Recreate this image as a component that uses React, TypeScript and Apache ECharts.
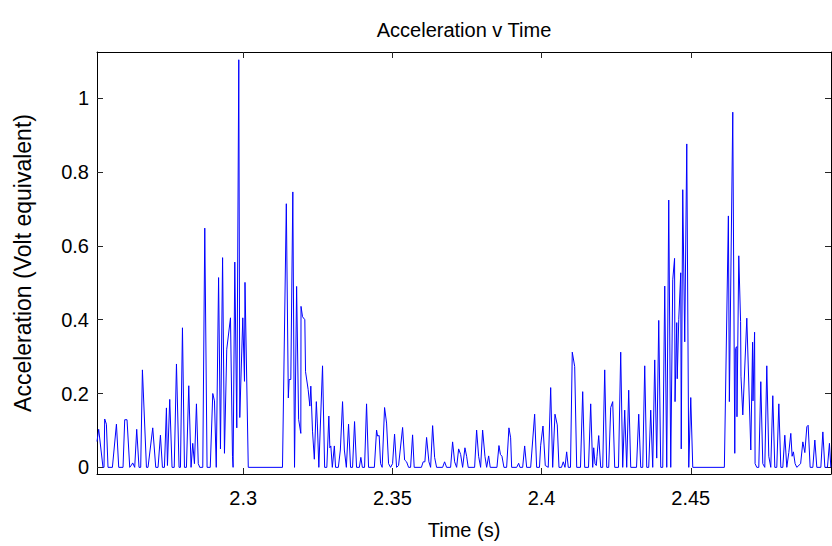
import React, { useEffect, useRef } from "react";
import * as echarts from "echarts";

// Time (s) of each traced vertex of the signal
const times: number[] = [
  2.25100, 2.25157, 2.25301, 2.25335, 2.25358, 2.25415, 2.25469, 2.25616, 2.25751, 2.25828,
  2.25972, 2.26029, 2.26106, 2.26197, 2.26254, 2.26297, 2.26364, 2.26431, 2.26508, 2.26565,
  2.26622, 2.26757, 2.26810, 2.26968, 2.27069, 2.27146, 2.27226, 2.27293, 2.27360, 2.27427,
  2.27461, 2.27538, 2.27615, 2.27689, 2.27763, 2.27850, 2.27897, 2.27964, 2.28031, 2.28098,
  2.28175, 2.28252, 2.28309, 2.28366, 2.28433, 2.28494, 2.28544, 2.28645, 2.28712, 2.28789,
  2.28896, 2.28980, 2.29037, 2.29097, 2.29175, 2.29238, 2.29309, 2.29372, 2.29449, 2.29574,
  2.29641, 2.29661, 2.29718, 2.29785, 2.29852, 2.29885, 2.29986, 2.30043, 2.30060, 2.30170,
  2.31317, 2.31445, 2.31512, 2.31539, 2.31596, 2.31663, 2.31720, 2.31790, 2.31857, 2.31931,
  2.31938, 2.31988, 2.32065, 2.32089, 2.32176, 2.32199, 2.32233, 2.32266, 2.32323, 2.32384,
  2.32451, 2.32484, 2.32535, 2.32659, 2.32729, 2.32803, 2.32870, 2.32904, 2.32937, 2.32987,
  2.33055, 2.33095, 2.33189, 2.33256, 2.33330, 2.33390, 2.33457, 2.33531, 2.33598, 2.33665,
  2.33732, 2.33799, 2.33893, 2.33943, 2.33994, 2.34067, 2.34134, 2.34201, 2.34396, 2.34470,
  2.34503, 2.34557, 2.34604, 2.34657, 2.34738, 2.34805, 2.34872, 2.34939, 2.35006, 2.35073,
  2.35140, 2.35207, 2.35342, 2.35409, 2.35476, 2.35543, 2.35610, 2.35677, 2.35731, 2.35972,
  2.36032, 2.36089, 2.36146, 2.36224, 2.36281, 2.36348, 2.36415, 2.36482, 2.36683, 2.36750,
  2.36817, 2.36951, 2.37018, 2.37086, 2.37153, 2.37220, 2.37287, 2.37354, 2.37431, 2.37488,
  2.37541, 2.37756, 2.37823, 2.37890, 2.37957, 2.38024, 2.38102, 2.38159, 2.38226, 2.38279,
  2.38504, 2.38571, 2.38621, 2.38672, 2.38739, 2.38829, 2.38906, 2.38963, 2.38997, 2.39165,
  2.39232, 2.39275, 2.39366, 2.39433, 2.39500, 2.39634, 2.39768, 2.39835, 2.39929, 2.39970,
  2.40047, 2.40124, 2.40224, 2.40305, 2.40372, 2.40449, 2.40526, 2.40583, 2.40667, 2.40727,
  2.40784, 2.40841, 2.40895, 2.40969, 2.41029, 2.41110, 2.41177, 2.41304, 2.41378, 2.41445,
  2.41573, 2.41646, 2.41713, 2.41747, 2.41791, 2.41834, 2.41858, 2.41915, 2.41982, 2.42049,
  2.42116, 2.42183, 2.42250, 2.42317, 2.42384, 2.42451, 2.42578, 2.42652, 2.42719, 2.42786,
  2.42853, 2.42920, 2.42988, 2.43182, 2.43256, 2.43323, 2.43390, 2.43457, 2.43524, 2.43591,
  2.43658, 2.43725, 2.43792, 2.43859, 2.43927, 2.43994, 2.44061, 2.44128, 2.44195, 2.44262,
  2.44329, 2.44396, 2.44457, 2.44473, 2.44530, 2.44547, 2.44597, 2.44664, 2.44681, 2.44731,
  2.44798, 2.44866, 2.44933, 2.45000, 2.45067, 2.46126, 2.46261, 2.46294, 2.46408, 2.46475,
  2.46495, 2.46542, 2.46549, 2.46609, 2.46670, 2.46683, 2.46744, 2.46878, 2.47012, 2.47072,
  2.47086, 2.47139, 2.47156, 2.47213, 2.47280, 2.47347, 2.47414, 2.47481, 2.47548, 2.47615,
  2.47682, 2.47749, 2.47816, 2.47883, 2.47951, 2.48018, 2.48085, 2.48152, 2.48219, 2.48286,
  2.48353, 2.48397, 2.48440, 2.48497, 2.48554, 2.48682, 2.48756, 2.48823, 2.48890, 2.48934,
  2.49001, 2.49091, 2.49158, 2.49225, 2.49360, 2.49427, 2.49494, 2.49581, 2.49648, 2.49695,
];

// Acceleration (Volt equivalent) at each of those times
const accel: number[] = [
  0.070, 0.103, 0.000, 0.000, 0.131, 0.117, 0.000, 0.000, 0.117, 0.000,
  0.000, 0.129, 0.129, 0.000, 0.006, 0.012, 0.000, 0.103, 0.000, 0.000,
  0.264, 0.000, 0.000, 0.107, 0.000, 0.000, 0.087, 0.000, 0.000, 0.161,
  0.005, 0.184, 0.000, 0.000, 0.280, 0.000, 0.000, 0.378, 0.000, 0.000,
  0.221, 0.000, 0.065, 0.010, 0.172, 0.010, 0.000, 0.000, 0.648, 0.000,
  0.000, 0.200, 0.180, 0.000, 0.514, 0.050, 0.568, 0.038, 0.320, 0.405,
  0.030, 0.000, 0.556, 0.107, 1.104, 0.135, 0.405, 0.233, 0.501, 0.000,
  0.000, 0.714, 0.188, 0.238, 0.238, 0.746, 0.000, 0.490, 0.130, 0.092,
  0.436, 0.408, 0.400, 0.259, 0.211, 0.211, 0.166, 0.220, 0.098, 0.022,
  0.178, 0.120, 0.000, 0.275, 0.000, 0.000, 0.139, 0.053, 0.058, 0.000,
  0.058, 0.000, 0.000, 0.047, 0.178, 0.047, 0.000, 0.117, 0.000, 0.000,
  0.124, 0.000, 0.000, 0.027, 0.000, 0.000, 0.172, 0.000, 0.000, 0.101,
  0.085, 0.086, 0.010, 0.000, 0.162, 0.120, 0.010, 0.000, 0.010, 0.090,
  0.000, 0.005, 0.108, 0.020, 0.015, 0.000, 0.000, 0.088, 0.000, 0.000,
  0.015, 0.015, 0.081, 0.015, 0.000, 0.113, 0.027, 0.000, 0.000, 0.015,
  0.000, 0.000, 0.069, 0.015, 0.000, 0.050, 0.035, 0.000, 0.053, 0.030,
  0.000, 0.000, 0.101, 0.030, 0.000, 0.101, 0.030, 0.000, 0.031, 0.000,
  0.000, 0.059, 0.035, 0.030, 0.000, 0.000, 0.107, 0.080, 0.000, 0.000,
  0.011, 0.000, 0.000, 0.058, 0.000, 0.000, 0.144, 0.000, 0.000, 0.060,
  0.112, 0.005, 0.000, 0.216, 0.000, 0.144, 0.115, 0.000, 0.000, 0.015,
  0.000, 0.042, 0.000, 0.000, 0.312, 0.273, 0.000, 0.000, 0.205, 0.000,
  0.000, 0.172, 0.000, 0.053, 0.010, 0.005, 0.030, 0.086, 0.000, 0.000,
  0.264, 0.000, 0.000, 0.162, 0.178, 0.000, 0.000, 0.312, 0.000, 0.155,
  0.000, 0.209, 0.000, 0.000, 0.144, 0.000, 0.000, 0.275, 0.000, 0.000,
  0.155, 0.000, 0.291, 0.025, 0.398, 0.000, 0.000, 0.491, 0.000, 0.724,
  0.000, 0.508, 0.566, 0.178, 0.392, 0.240, 0.400, 0.527, 0.050, 0.752,
  0.340, 0.876, 0.000, 0.189, 0.000, 0.000, 0.681, 0.178, 0.962, 0.038,
  0.322, 0.327, 0.137, 0.573, 0.395, 0.247, 0.142, 0.404, 0.047, 0.339,
  0.180, 0.366, 0.010, 0.000, 0.000, 0.232, 0.010, 0.000, 0.275, 0.030,
  0.000, 0.194, 0.000, 0.000, 0.172, 0.000, 0.000, 0.087, 0.000, 0.040,
  0.092, 0.030, 0.042, 0.010, 0.000, 0.010, 0.069, 0.040, 0.110, 0.114,
  0.000, 0.000, 0.074, 0.000, 0.000, 0.096, 0.000, 0.000, 0.065, 0.000,
];

const xTicks: number[] = [2.3, 2.35, 2.4, 2.45];
const yTicks: number[] = [0, 0.2, 0.4, 0.6, 0.8, 1];

const titleText = "Acceleration v Time";
const xName = "Time (s)";
const yName = "Acceleration (Volt equivalent)";

const X_MIN = 2.251;
const X_MAX = 2.497;
const Y_MIN = -0.018;
const Y_MAX = 1.125;

const FONT = "'Liberation Sans', Arial, Helvetica, sans-serif";

export default function App() {
  const ref = useRef<HTMLDivElement>(null);

  useEffect(() => {
    if (!ref.current) return;
    const chart = echarts.init(ref.current, null, { renderer: "svg" });
    const data = times.map((t, i) => [t, accel[i]]);

    const tickStyle = { color: "#262626", width: 1 };
    const baseX = {
      type: "value" as const,
      min: X_MIN,
      max: X_MAX,
      splitLine: { show: false },
      axisLine: { show: true, onZero: false, lineStyle: { color: "#000", width: 1 } },
      axisTick: { show: true, inside: true, length: 6, customValues: xTicks, lineStyle: tickStyle },
    };
    const baseY = {
      type: "value" as const,
      min: Y_MIN,
      max: Y_MAX,
      splitLine: { show: false },
      axisLine: { show: true, onZero: false, lineStyle: { color: "#000", width: 1 } },
      axisTick: { show: true, inside: true, length: 6, customValues: yTicks, lineStyle: tickStyle },
    };

    chart.setOption({
      animation: false,
      backgroundColor: "#fff",
      textStyle: { fontFamily: FONT },
      grid: { left: 97, right: 1, top: 52, bottom: 72, containLabel: false },
      graphic: [
        {
          type: "text",
          x: 464,
          y: 30,
          style: {
            text: titleText,
            fontFamily: FONT,
            fontSize: 20,
            fill: "#000",
            textAlign: "center",
            textVerticalAlign: "middle",
          },
        },
      ],
      xAxis: [
        {
          ...baseX,
          position: "bottom",
          name: xName,
          nameLocation: "middle",
          nameGap: 46,
          nameTextStyle: { fontFamily: FONT, fontSize: 20, color: "#000" },
          axisLabel: {
            show: true,
            customValues: xTicks,
            margin: 14,
            fontFamily: FONT,
            fontSize: 20,
            color: "#000",
            formatter: (v: number) => String(+v.toFixed(2)),
          },
        },
        {
          ...baseX,
          position: "top",
          axisLabel: { show: false },
        },
      ],
      yAxis: [
        {
          ...baseY,
          position: "left",
          name: yName,
          nameLocation: "middle",
          nameRotate: 90,
          nameGap: 63,
          nameTextStyle: { fontFamily: FONT, fontSize: 23, color: "#000" },
          axisLabel: {
            show: true,
            customValues: yTicks,
            margin: 8,
            fontFamily: FONT,
            fontSize: 20,
            color: "#000",
            formatter: (v: number) => String(+v.toFixed(1)),
          },
        },
        {
          ...baseY,
          position: "right",
          axisLabel: { show: false },
        },
      ],
      series: [
        {
          type: "line",
          xAxisIndex: 0,
          yAxisIndex: 0,
          data,
          showSymbol: false,
          symbol: "none",
          clip: true,
          lineStyle: { color: "#0000ff", width: 1 },
        },
      ],
    });

    return () => chart.dispose();
  }, []);

  return (
    <div
      ref={ref}
      style={{ position: "fixed", left: 0, top: 0, width: 832, height: 546, background: "#fff" }}
    />
  );
}
